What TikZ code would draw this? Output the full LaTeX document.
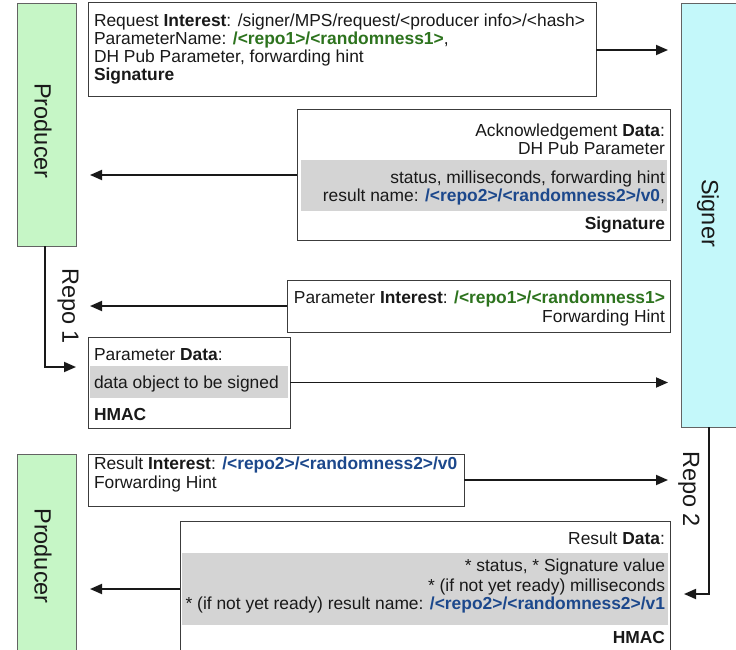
\documentclass[tikz,border=0pt]{standalone}
\usepackage{fontspec}
\setmainfont{Liberation Sans}
\usetikzlibrary{arrows.meta}

\definecolor{prodgreen}{RGB}{198,246,198}
\definecolor{signcyan}{RGB}{196,248,250}
\definecolor{bandgray}{RGB}{212,212,212}
\definecolor{edgegray}{RGB}{60,60,60}
\definecolor{inkdark}{RGB}{25,25,25}
\definecolor{namegreen}{RGB}{45,115,30}
\definecolor{nameblue}{RGB}{28,72,140}

\newcommand{\gname}[1]{\textcolor{namegreen}{\textbf{#1}}}
\newcommand{\bname}[1]{\textcolor{nameblue}{\textbf{#1}}}

\begin{document}
\begin{tikzpicture}[x=1pt,y=-1pt,
  every node/.style={inner sep=0pt, outer sep=0pt, text=inkdark,
    font=\fontsize{17.4}{18}\selectfont},
  party/.style={draw=edgegray!80, line width=1pt, rectangle},
  msgbox/.style={draw=edgegray, line width=1pt, fill=white, rectangle},
  band/.style={fill=bandgray, draw=none},
  lineL/.style={anchor=base west},
  lineR/.style={anchor=base east},
  biglabel/.style={rotate=-90, font=\fontsize{23.5}{24}\selectfont},
  arr/.style={draw=inkdark, line width=1.8pt,
    -{Triangle[length=12pt,width=10pt]}},
]
\useasboundingbox (0,0) rectangle (736,650);

% parties
\node[party, fill=prodgreen, minimum width=59pt, minimum height=242pt]
  (prodA) at (46.5,125) {};
\node[biglabel] (prodAlabel) at (43,131) {Producer};
\node[party, fill=signcyan, minimum width=61pt, minimum height=423pt]
  (signer) at (711.5,215.5) {};
\node[biglabel] (signerlabel) at (708,213) {Signer};
\node[party, fill=prodgreen, minimum width=59pt, minimum height=206pt]
  (prodB) at (46.5,557) {};
\node[biglabel] (prodBlabel) at (43,556) {Producer};

% request interest
\node[msgbox, minimum width=508pt, minimum height=94pt] (req) at (342,50) {};
\node[lineL] (req1) at (94,27) {Request \textbf{Interest}: /signer/MPS/request/<producer info>/<hash>};
\node[lineL] (req2) at (94,45) {ParameterName: \gname{/<repo1>/<randomness1>},};
\node[lineL] (req3) at (94,63) {DH Pub Parameter, forwarding hint};
\node[lineL] (req4) at (94,81) {\textbf{Signature}};

% acknowledgement data
\node[msgbox, minimum width=373pt, minimum height=130pt] (ack) at (483.5,175) {};
\fill[band] (301,160) rectangle (667,211);
\node[lineR] (ack1) at (665,136) {Acknowledgement \textbf{Data}:};
\node[lineR] (ack2) at (665,154) {DH Pub Parameter};
\node[lineR] (ack3) at (665,183) {status, milliseconds, forwarding hint};
\node[lineR] (ack4) at (665,201) {result name: \bname{/<repo2>/<randomness2>/v0},};
\node[lineR] (ack5) at (665,229) {\textbf{Signature}};

% parameter interest
\node[msgbox, minimum width=383pt, minimum height=52pt] (pint) at (478.5,306) {};
\node[lineR] (pint1) at (665,303) {Parameter \textbf{Interest}: \gname{/<repo1>/<randomness1>}};
\node[lineR] (pint2) at (665,322) {Forwarding Hint};

% parameter data
\node[msgbox, minimum width=202pt, minimum height=91pt] (pdata) at (189,382.5) {};
\fill[band] (90,366) rectangle (288,398);
\node[lineL] (pdata1) at (94,360) {Parameter \textbf{Data}:};
\node[lineL] (pdata2) at (94,388) {data object to be signed};
\node[lineL] (pdata3) at (94,420) {\textbf{HMAC}};

% result interest
\node[msgbox, minimum width=376pt, minimum height=52pt] (rint) at (276,480) {};
\node[lineL] (rint1) at (94,469) {Result \textbf{Interest}: \bname{/<repo2>/<randomness2>/v0}};
\node[lineL] (rint2) at (94,488) {Forwarding Hint};

% result data
\node[msgbox, minimum width=490pt, minimum height=136pt] (rdata) at (425,589) {};
\fill[band] (182,553) rectangle (668,625);
\node[lineR] (rdata1) at (665,544) {Result \textbf{Data}:};
\node[lineR] (rdata2) at (665,571) {* status, * Signature value};
\node[lineR] (rdata3) at (665,591) {* (if not yet ready) milliseconds};
\node[lineR] (rdata4) at (665,609) {* (if not yet ready) result name: \bname{/<repo2>/<randomness2>/v1}};
\node[lineR] (rdata5) at (665,643) {\textbf{HMAC}};

% message arrows
\draw[arr, shorten >=13pt] (req.east) -- (req.east -| signer.west);
\draw[arr, shorten >=14pt] (ack.west) -- (ack.west -| prodA.east);
\draw[arr, shorten >=14pt] (pint.west) -- (pint.west -| prodA.east);
\draw[arr, shorten >=13pt] (pdata.east) -- (pdata.east -| signer.west);
\draw[arr, shorten >=13pt] (rint.east) -- (rint.east -| signer.west);
\draw[arr, shorten >=14pt] (rdata.west) -- (rdata.west -| prodB.east);

% repository hand-offs
\coordinate (repo1end) at (76,367);
\draw[arr] (prodA.south -| 45,0) |- (repo1end);
\node[biglabel] (repo1label) at (68,306) {Repo 1};
\coordinate (repo2end) at (684,594);
\draw[arr] (signer.south -| 709,0) |- (repo2end);
\node[biglabel] (repo2label) at (689,489) {Repo 2};
\end{tikzpicture}
\end{document}
